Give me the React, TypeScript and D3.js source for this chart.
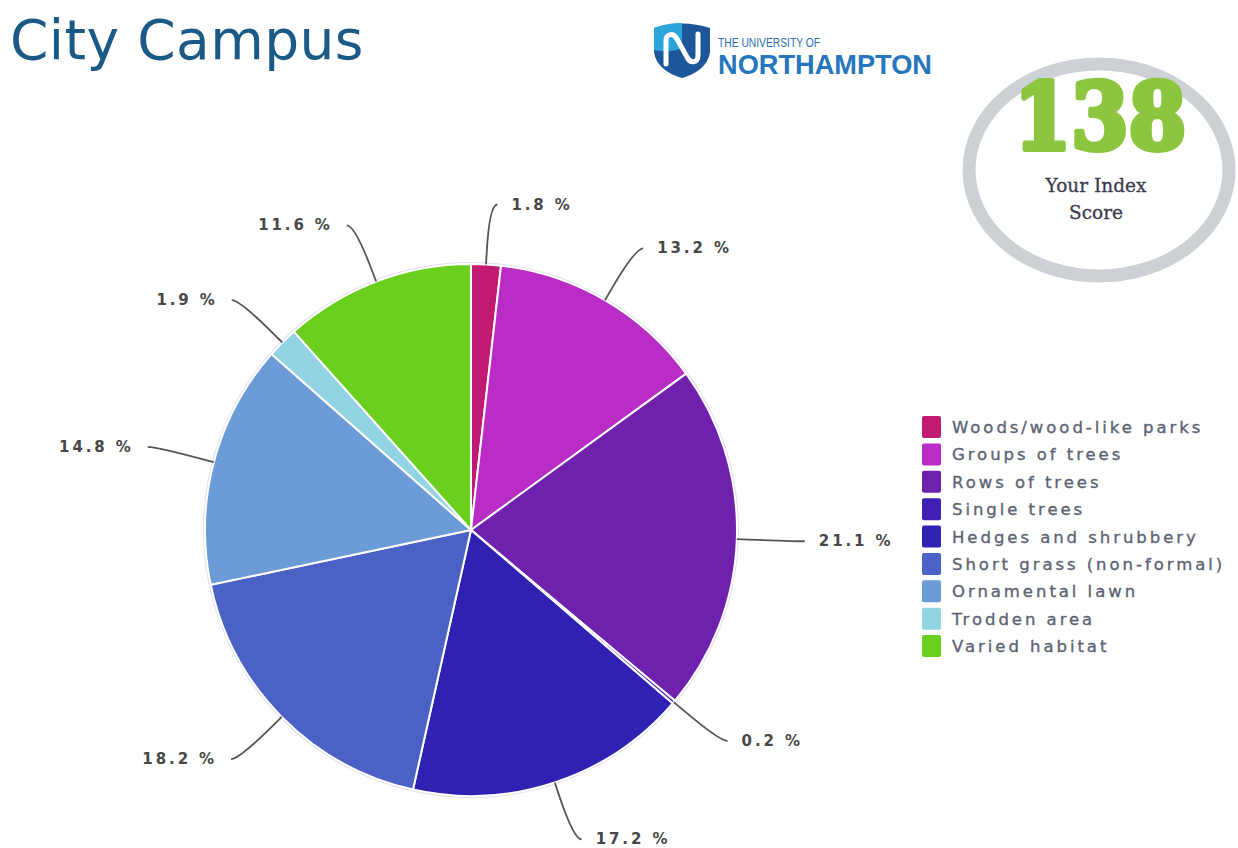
import React from 'react';
import * as d3 from 'd3';

const titleText = 'City Campus';
const categories = [
  'Woods/wood-like parks',
  'Groups of trees',
  'Rows of trees',
  'Single trees',
  'Hedges and shrubbery',
  'Short grass (non-formal)',
  'Ornamental lawn',
  'Trodden area',
  'Varied habitat',
];
const values = [1.8, 13.2, 21.1, 0.2, 17.2, 18.2, 14.8, 1.9, 11.6];
const colors = ['#c01a72', '#b92cc6', '#6f21ae', '#4020b4', '#2f22b2', '#4a62c6', '#6b9cd8', '#92d4e4', '#6acf1f'];
const scoreValue = '138';
const scoreLines = ['Your Index', 'Score'];

export default function App() {
  const W = 1238, H = 848;
  const cx = 471, cy = 530, r = 266;
  const labelDist = 60;

  const pieData = d3.pie<number>().sort(null).value((d) => d)(values);
  const arc = d3.arc<d3.PieArcDatum<number>>().innerRadius(0).outerRadius(r);
  const pt = (a: number, rad: number): [number, number] => [cx + rad * Math.sin(a), cy - rad * Math.cos(a)];

  const labels = pieData.map((d, i) => {
    const mid = (d.startAngle + d.endAngle) / 2;
    const side = Math.sin(mid) >= 0 ? 1 : -1;
    const P = pt(mid, r + labelDist);
    const Q = pt(mid, r + 12);
    const E = pt(mid, r);
    const path = `M${P[0] + side * 8},${P[1]} C${P[0]},${P[1]} ${2 * Q[0] - E[0]},${2 * Q[1] - E[1]} ${Q[0]},${Q[1]} L${E[0]},${E[1]}`;
    return { i, side, P, path, text: `${values[i].toFixed(1)} %` };
  });

  const legendY = d3.scalePoint<string>().domain(categories).range([427, 646]);

  return (
    <svg width={W} height={H} style={{ position: 'absolute', left: 0, top: 0, background: '#fff' }}>
      <rect x={0} y={0} width={W} height={H} fill="#ffffff" />
      {/* Title */}
      <text x={10} y={59} fontFamily="DejaVu Sans" fontSize={55} letterSpacing={0.4} fill="#1b5a86">{titleText}</text>

      {/* Logo */}
      <g transform="translate(652,22)">
        <path d="M2,6 C20,0 40,0 58,6 L58,30 C56,44 44,52 30,56 C16,52 4,44 2,30 Z" fill="#1e5799" />
        <path d="M2,6 C12,2 22,1 30,1 L30,26 C22,30 10,30 2,28 Z" fill="#2aa5dc" />
        <path d="M14,42 L14,18 C14,11 22,11 25,17 L35,35 C38,42 46,41 46,34 L46,12" stroke="#ffffff" strokeWidth={5} fill="none" strokeLinecap="round" />
      </g>
      <text x={718} y={47} fontFamily="Liberation Sans" fontSize={12} fill="#2c6fae" textLength={102} lengthAdjust="spacingAndGlyphs">THE UNIVERSITY OF</text>
      <text x={718} y={74} fontFamily="Liberation Sans" fontWeight="bold" fontSize={28} fill="#2676bd" textLength={214} lengthAdjust="spacingAndGlyphs">NORTHAMPTON</text>

      {/* Score badge */}
      <ellipse cx={1099} cy={170} rx={130} ry={106} fill="#ffffff" stroke="#cdd0d4" strokeWidth={13} />
      <text x={1100} y={149} textAnchor="middle" fontFamily="DejaVu Serif" fontWeight="bold" fontSize={92} fill="#8cc63f" stroke="#8cc63f" strokeWidth={6} strokeLinejoin="round" textLength={172} lengthAdjust="spacingAndGlyphs">{scoreValue}</text>
      {scoreLines.map((s, i) => (
        <text key={s} x={1096} y={192 + i * 27} textAnchor="middle" fontFamily="DejaVu Serif" fontSize={18.5} fill="#3b3b4d" stroke="#3b3b4d" strokeWidth={0.3}>{s}</text>
      ))}

      {/* Pie */}
      <circle cx={cx} cy={cy} r={r + 2} fill="#e2def0" />
      <g transform={`translate(${cx},${cy})`}>
        {pieData.map((d, i) => (
          <path key={i} d={arc(d) || ''} fill={colors[i]} stroke="#ffffff" strokeWidth={2} strokeLinejoin="round" />
        ))}
      </g>

      {/* Labels */}
      {labels.map((l) => (
        <g key={l.i}>
          <path d={l.path} fill="none" stroke="#555555" strokeWidth={1.8} />
          <text x={l.P[0] + l.side * 22} y={l.P[1] + 5} textAnchor={l.side > 0 ? 'start' : 'end'} fontFamily="DejaVu Sans" fontWeight="bold" fontSize={15} letterSpacing={2.9} fill="#474747">{l.text}</text>
        </g>
      ))}

      {/* Legend */}
      {categories.map((c, i) => (
        <g key={c}>
          <rect x={922} y={(legendY(c) as number) - 11} width={19} height={22} rx={2} fill={colors[i]} />
          <text x={952} y={(legendY(c) as number) + 6} fontFamily="DejaVu Sans" fontSize={16.5} letterSpacing={2.95} fill="#5d6374" stroke="#5d6374" strokeWidth={0.35}>{c}</text>
        </g>
      ))}
    </svg>
  );
}
